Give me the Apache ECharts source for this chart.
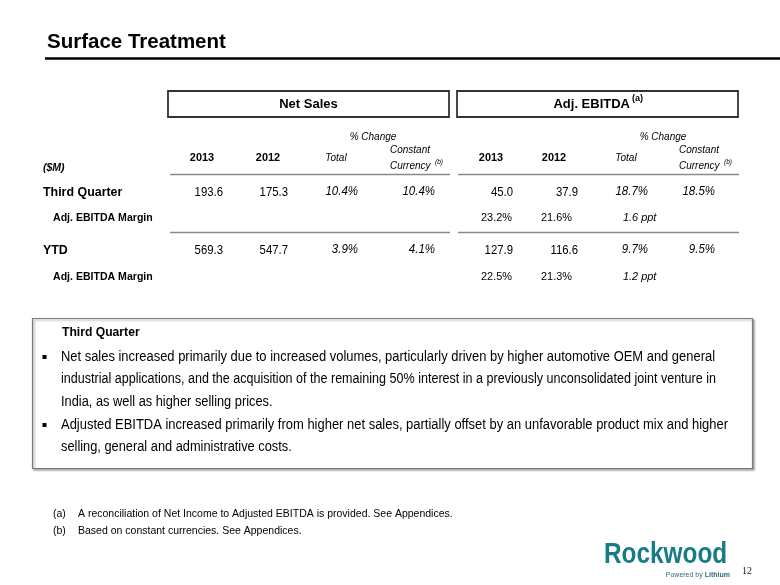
<!DOCTYPE html>
<html><head><meta charset="utf-8">
<script src="https://cdn.jsdelivr.net/npm/echarts@6/dist/echarts.min.js"></script>
<style>html,body{margin:0;padding:0;background:#fff}#c{width:780px;height:585px}</style>
</head><body><div id="c"></div>
<script>
// ---------- data ----------
const slideTitle = 'Surface Treatment';
const sectionTitles = ['Net Sales', 'Adj. EBITDA'];
const sectionNotes = ['', '(a)'];
const years = ['2013', '2012'];
const changeLabel = '% Change';
const changeCols = ['Total', 'Constant', 'Currency'];
const ccNote = '(b)';
const unitLabel = '($M)';
const rowLabels = ['Third Quarter', 'Adj. EBITDA Margin', 'YTD', 'Adj. EBITDA Margin'];
const netSales2013 = [193.6, 569.3];
const netSales2012 = [175.3, 547.7];
const netSalesTotalPct = [10.4, 3.9];
const netSalesCcPct = [10.4, 4.1];
const ebitda2013 = [45.0, 127.9];
const ebitda2012 = [37.9, 116.6];
const ebitdaTotalPct = [18.7, 9.7];
const ebitdaCcPct = [18.5, 9.5];
const margin2013 = [23.2, 22.5];
const margin2012 = [21.6, 21.3];
const marginChangePpt = [1.6, 1.2];
const commentaryTitle = 'Third Quarter';
const commentaryBullets = [
  ['Net sales increased primarily due to increased volumes, particularly driven by higher automotive OEM and general',
   'industrial applications, and the acquisition of the remaining 50% interest in a previously unconsolidated joint venture in',
   'India, as well as higher selling prices.'],
  ['Adjusted EBITDA increased primarily from higher net sales, partially offset by an unfavorable product mix and higher',
   'selling, general and administrative costs.']
];
const footnotes = [['(a)', 'A reconciliation of Net Income to Adjusted EBITDA is provided. See Appendices.'],
                   ['(b)', 'Based on constant currencies. See Appendices.']];
const brandName = 'Rockwood';
const brandTag = ['Powered by', 'Lithium'];
const pageNumber = '12';

// ---------- layout ----------
const F = "'Liberation Sans', Arial, sans-serif";
const els = [];
function fontOf(o) {
  return (o.style || 'normal') + ' ' + (o.weight || 'normal') + ' ' + (o.size || 12) + 'px ' + (o.family || F);
}
function txt(text, x, y, o) {
  o = o || {};
  els.push({type: 'text', x: x, y: y, scaleX: o.sx || 1, silent: true, style: {
    text: text, fill: o.fill || '#000', align: o.align || 'left', verticalAlign: o.va || 'middle',
    font: fontOf(o)
  }});
}
function line(x1, y1, x2, y2, color, w) {
  els.push({type: 'line', silent: true, shape: {x1: x1, y1: y1, x2: x2, y2: y2}, style: {stroke: color, lineWidth: w}});
}
const measureCtx = document.createElement('canvas').getContext('2d');
function measure(text, o) { measureCtx.font = fontOf(o); return measureCtx.measureText(text).width; }

const f1 = v => v.toFixed(1);
const pct = v => v.toFixed(1) + '%';
const ppt = v => v.toFixed(1) + ' ppt';

// title
txt(slideTitle, 47, 42, {weight: 'bold', size: 20.5});
line(45, 58.5, 780, 58.5, '#000', 2.5);

// section boxes
const boxes = [{x: 168, w: 281, cx: 308.5, hx: [202, 268, 336, 390], chg: 373, lineX: [170, 450]},
               {x: 457, w: 281, cx: 597.5, hx: [491, 554, 626, 679], chg: 663, lineX: [458, 739]}];
boxes.forEach((b, i) => {
  els.push({type: 'rect', silent: true, shape: {x: b.x, y: 91, width: b.w, height: 26},
            style: {fill: 'none', stroke: '#333', lineWidth: 1.8}});
  if (sectionNotes[i]) {
    txt(sectionTitles[i], 630, 104, {weight: 'bold', size: 13, align: 'right'});
    txt(sectionNotes[i], 632, 99, {weight: 'bold', size: 9});
  } else {
    txt(sectionTitles[i], b.cx, 104, {weight: 'bold', size: 13, align: 'center'});
  }
  txt(changeLabel, b.chg, 137, {style: 'italic', size: 10, align: 'center'});
  txt(years[0], b.hx[0], 158, {weight: 'bold', size: 11.5, align: 'center', sx: 0.95});
  txt(years[1], b.hx[1], 158, {weight: 'bold', size: 11.5, align: 'center', sx: 0.95});
  txt(changeCols[0], b.hx[2], 158, {style: 'italic', size: 10, align: 'center'});
  txt(changeCols[1], b.hx[3], 150, {style: 'italic', size: 10});
  txt(changeCols[2], b.hx[3], 166, {style: 'italic', size: 10});
  txt(ccNote, b.hx[3] + 45, 162, {style: 'italic', size: 6.5});
  line(b.lineX[0], 174.5, b.lineX[1], 174.5, '#8a8a8a', 1.5);
  line(b.lineX[0], 232.5, b.lineX[1], 232.5, '#8a8a8a', 1.5);
});

txt(unitLabel, 43, 168, {style: 'italic', weight: 'bold', size: 10.5});
const rowY = [192, 218, 250, 277];
const mainLbl = {weight: 'bold', size: 13.5, sx: 0.92};
const subLbl = {weight: 'bold', size: 11, sx: 0.96};
txt(rowLabels[0], 43, rowY[0], mainLbl);
txt(rowLabels[1], 53, rowY[1], subLbl);
txt(rowLabels[2], 43, rowY[2], mainLbl);
txt(rowLabels[3], 53, rowY[3], subLbl);

const num = {size: 13.5, align: 'right', sx: 0.84};
const pctI = {size: 12.5, style: 'italic', align: 'right', sx: 0.92};
[0, 2].forEach((ry, k) => {
  const y = rowY[ry];
  txt(f1(netSales2013[k]), 223, y, num);
  txt(f1(netSales2012[k]), 288, y, num);
  txt(pct(netSalesTotalPct[k]), 358, y, pctI);
  txt(pct(netSalesCcPct[k]), 435, y, pctI);
  txt(f1(ebitda2013[k]), 513, y, num);
  txt(f1(ebitda2012[k]), 578, y, num);
  txt(pct(ebitdaTotalPct[k]), 648, y, pctI);
  txt(pct(ebitdaCcPct[k]), 715, y, pctI);
});
const mg = {size: 11.5, align: 'right', sx: 0.95};
[1, 3].forEach((ry, k) => {
  const y = rowY[ry];
  txt(pct(margin2013[k]), 512, y, mg);
  txt(pct(margin2012[k]), 572, y, mg);
  txt(ppt(marginChangePpt[k]), 623, y, {size: 11.5, style: 'italic', sx: 0.95});
});

// commentary box
els.push({type: 'rect', silent: true, shape: {x: 32.5, y: 318.5, width: 720, height: 150},
          style: {fill: '#fff', stroke: '#7a7a7a', lineWidth: 1.2,
                  shadowColor: 'rgba(0,0,0,0.35)', shadowOffsetX: 1.5, shadowOffsetY: 1.5, shadowBlur: 2}});
txt(commentaryTitle, 62, 332, {weight: 'bold', size: 13.5, sx: 0.9});
const bodyFont = {size: 14};
const textLeft = 61;
// right edges of the wrapped (non-final) lines in each paragraph
const wrapRight = [[715, 716], [728]];
const fitScales = [];
wrapRight.forEach((arr, bi) => arr.forEach((r, li) => fitScales.push((r - textLeft) / measure(commentaryBullets[bi][li], bodyFont))));
const meanSx = fitScales.reduce((a, b) => a + b, 0) / fitScales.length;
const bulletStartY = [357, 425];
const lineGap = 22.5;
commentaryBullets.forEach((lines, bi) => {
  els.push({type: 'rect', silent: true, shape: {x: 42.5, y: bulletStartY[bi] - 2, width: 4, height: 4}, style: {fill: '#000'}});
  lines.forEach((ln, li) => {
    const r = wrapRight[bi][li];
    const sx = r ? (r - textLeft) / measure(ln, bodyFont) : meanSx;
    txt(ln, textLeft, bulletStartY[bi] + li * lineGap, {size: 14, sx: sx});
  });
});

// footnotes
footnotes.forEach((fn, i) => {
  txt(fn[0], 53, 514 + i * 17, {size: 10.5});
  txt(fn[1], 78, 514 + i * 17, {size: 10.5});
});

// brand
txt(brandName, 604, 555, {weight: 'bold', size: 29, fill: '#187c88', sx: 0.84});
txt(brandTag[1], 730, 575, {size: 7, weight: 'bold', fill: '#2b6e78', align: 'right'});
txt(brandTag[0], 730 - measure(brandTag[1], {size: 7, weight: 'bold'}) - 2, 575, {size: 7, fill: '#2b6e78', align: 'right'});
txt(pageNumber, 742, 571, {size: 10, family: "'Liberation Serif', 'Times New Roman', serif", fill: '#222'});

const chart = echarts.init(document.getElementById('c'), null, {renderer: 'canvas'});
chart.setOption({backgroundColor: '#fff', animation: false, graphic: {elements: els}});
</script></body></html>
